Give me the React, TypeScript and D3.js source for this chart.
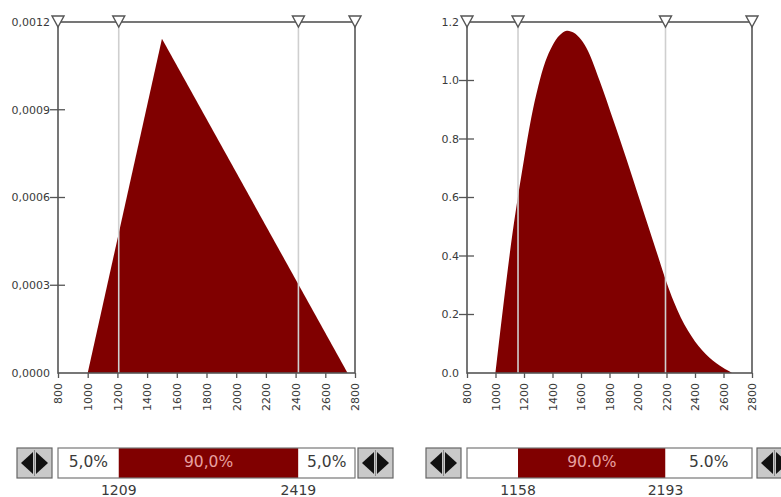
import React, { useEffect, useRef } from 'react';
import * as d3 from 'd3';

// axis ticks shared by both panels
const xTicks = [800, 1000, 1200, 1400, 1600, 1800, 2000, 2200, 2400, 2600, 2800];

// left panel: triangular distribution
const leftYTicks = [0, 0.0003, 0.0006, 0.0009, 0.0012];
const leftYLabels = ['0,0000', '0,0003', '0,0006', '0,0009', '0,0012'];
const leftCurve: [number, number][] = [[1000, 0], [1500, 0.001143], [2750, 0]];
const leftMarkers = [800, 1209, 2419, 2800];
const leftBands = ['5,0%', '90,0%', '5,0%'];
const leftValues = ['1209', '2419'];

// right panel: skewed curve
const rightYTicks = [0, 0.2, 0.4, 0.6, 0.8, 1.0, 1.2];
const rightYLabels = ['0.0', '0.2', '0.4', '0.6', '0.8', '1.0', '1.2'];
const rightCurve: [number, number][] = [
  [1000, 0], [1040, 0.17], [1080, 0.33], [1120, 0.48], [1160, 0.61], [1200, 0.73],
  [1250, 0.87], [1300, 0.98], [1350, 1.065], [1400, 1.12], [1450, 1.155], [1500, 1.17],
  [1550, 1.163], [1600, 1.14], [1650, 1.1], [1730, 1.0], [1830, 0.86], [1920, 0.73],
  [2010, 0.595], [2080, 0.49], [2140, 0.4], [2200, 0.31], [2250, 0.245], [2300, 0.19],
  [2350, 0.145], [2400, 0.108], [2450, 0.078], [2500, 0.053], [2550, 0.033],
  [2600, 0.017], [2640, 0.006], [2660, 0],
];
const rightMarkers = [800, 1158, 2193, 2800];
const rightBands = ['', '90.0%', '5.0%'];
const rightValues = ['1158', '2193'];

const RED = '#800000';
const FRAME = '#555';
const TEXT = '#3a3a3a';
const FONT = '"DejaVu Sans", Verdana, sans-serif';

function drawButton(g: any, bx: number) {
  const by = 448, w = 35, h = 30;
  g.append('rect').attr('x', bx).attr('y', by).attr('width', w).attr('height', h)
    .attr('fill', '#c9c9c9').attr('stroke', '#666').attr('stroke-width', 1.2);
  g.append('path')
    .attr('d', `M${bx + 4},${by + 15}L${bx + 16},${by + 4}L${bx + 16},${by + 26}Z`)
    .attr('fill', '#111');
  g.append('path')
    .attr('d', `M${bx + 31},${by + 15}L${bx + 19},${by + 4}L${bx + 19},${by + 26}Z`)
    .attr('fill', '#111');
  g.append('line').attr('x1', bx + 17.5).attr('x2', bx + 17.5).attr('y1', by + 2).attr('y2', by + h - 2)
    .attr('stroke', '#888').attr('stroke-width', 1);
}

function drawPanel(svg: any, o: any) {
  const top = 22, bottom = 373;
  const x = d3.scaleLinear().domain([800, 2800]).range([o.left, o.right]);
  const y = d3.scaleLinear().domain([0, o.yMax]).range([bottom, top]);
  const g = svg.append('g');

  const area = d3.area<[number, number]>()
    .x(d => x(d[0]))
    .y0(bottom)
    .y1(d => y(d[1]))
    .curve(o.smooth ? d3.curveCatmullRom.alpha(0.5) : d3.curveLinear);
  g.append('path').datum(o.curve).attr('d', area).attr('fill', RED);

  // quantile lines
  o.markers.slice(1, 3).forEach((m: number) => {
    g.append('line').attr('x1', x(m)).attr('x2', x(m)).attr('y1', top).attr('y2', bottom)
      .attr('stroke', '#cfcfcf').attr('stroke-width', 1.6);
  });

  g.append('rect').attr('x', o.left).attr('y', top).attr('width', o.right - o.left).attr('height', bottom - top)
    .attr('fill', 'none').attr('stroke', FRAME).attr('stroke-width', 1.6);

  const xAxis = g.append('g').attr('transform', `translate(0,${bottom})`)
    .call(d3.axisBottom(x).tickValues(xTicks).tickSize(5).tickFormat(d3.format('d')));
  xAxis.attr('font-family', FONT).attr('font-size', 11);
  xAxis.select('.domain').remove();
  xAxis.selectAll('line').attr('stroke', FRAME).attr('stroke-width', 1.3);
  xAxis.selectAll('text')
    .attr('transform', 'rotate(-90)').attr('x', -10).attr('y', 0).attr('dy', '0.35em')
    .attr('text-anchor', 'end').attr('fill', TEXT);

  o.yTicks.forEach((t: number, i: number) => {
    if (i > 0 && i < o.yTicks.length - 1) {
      g.append('line').attr('x1', o.left - 8).attr('x2', o.left + 7).attr('y1', y(t)).attr('y2', y(t))
        .attr('stroke', FRAME).attr('stroke-width', 1.3);
    }
    g.append('text').attr('x', o.left - 8).attr('y', y(t)).attr('dy', '0.35em')
      .attr('text-anchor', 'end').attr('font-family', FONT).attr('font-size', 11).attr('fill', TEXT)
      .text(o.yLabels[i]);
  });

  o.markers.forEach((m: number) => {
    const cx = x(m);
    g.append('path').attr('d', `M${cx - 6},16L${cx + 6},16L${cx},27Z`)
      .attr('fill', '#fff').attr('stroke', FRAME).attr('stroke-width', 1.4);
  });

  // probability band
  const by = 448, bh = 30;
  o.bands.forEach((label: string, i: number) => {
    const x0 = x(o.markers[i]), x1 = x(o.markers[i + 1]);
    g.append('rect').attr('x', x0).attr('y', by).attr('width', x1 - x0).attr('height', bh)
      .attr('fill', i === 1 ? RED : '#fff');
    g.append('text').attr('x', (x0 + x1) / 2).attr('y', by + 19)
      .attr('text-anchor', 'middle').attr('font-family', FONT).attr('font-size', 15.5)
      .attr('fill', i === 1 ? '#e8a0a0' : TEXT).text(label);
  });
  g.append('rect').attr('x', o.left).attr('y', by).attr('width', o.right - o.left).attr('height', bh)
    .attr('fill', 'none').attr('stroke', '#777').attr('stroke-width', 1.2);

  o.values.forEach((v: string, i: number) => {
    g.append('text').attr('x', x(o.markers[i + 1])).attr('y', 495)
      .attr('text-anchor', 'middle').attr('font-family', FONT).attr('font-size', 14)
      .attr('fill', TEXT).text(v);
  });

  drawButton(g, o.btnLeft);
  drawButton(g, o.btnRight);
}

const App = () => {
  const ref = useRef<SVGSVGElement>(null);

  useEffect(() => {
    document.body.style.margin = '0';
    const svg = d3.select(ref.current);
    svg.selectAll('*').remove();
    svg.append('rect').attr('width', 781).attr('height', 497).attr('fill', '#fff');

    drawPanel(svg, {
      left: 58, right: 355, yMax: 0.0012, yTicks: leftYTicks, yLabels: leftYLabels,
      curve: leftCurve, smooth: false, markers: leftMarkers, bands: leftBands, values: leftValues,
      btnLeft: 17, btnRight: 358,
    });
    drawPanel(svg, {
      left: 467, right: 752, yMax: 1.2, yTicks: rightYTicks, yLabels: rightYLabels,
      curve: rightCurve, smooth: true, markers: rightMarkers, bands: rightBands, values: rightValues,
      btnLeft: 426, btnRight: 757,
    });
  }, []);

  return <svg ref={ref} width={781} height={497} style={{ display: 'block' }} />;
};

export default App;
